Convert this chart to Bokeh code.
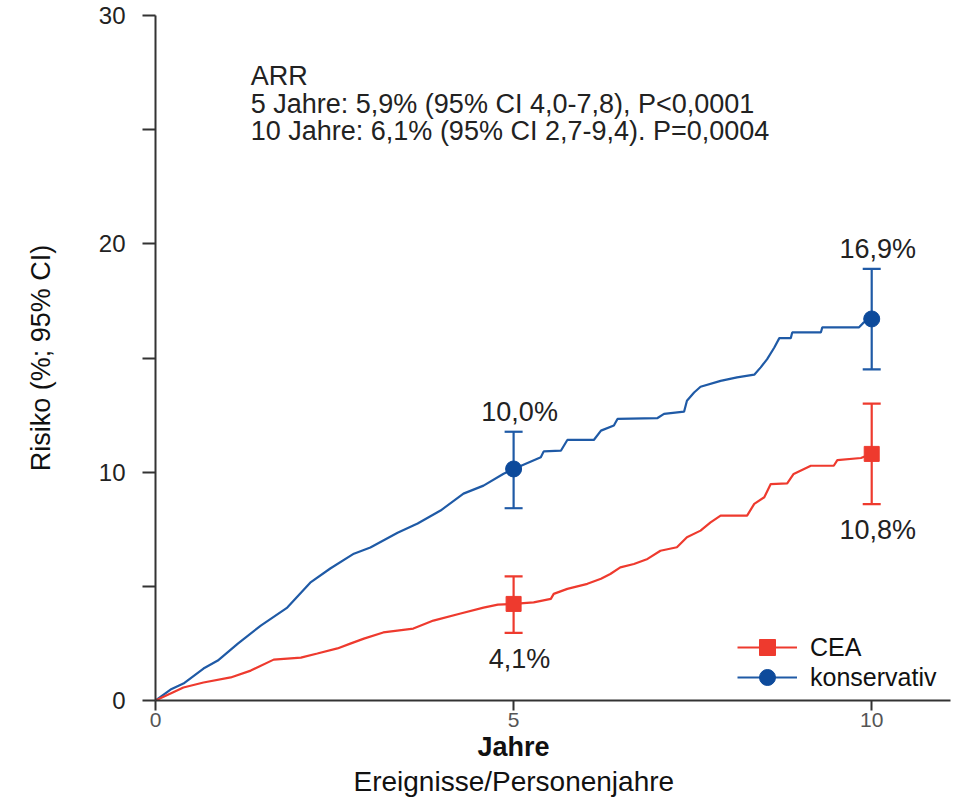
from bokeh.plotting import figure
from bokeh.models import (FixedTicker, Whisker, TeeHead, ColumnDataSource, Legend,
                          LegendItem, Label, Range1d, Title)
from bokeh.core.properties import value
from bokeh.embed import file_html
from bokeh.resources import INLINE

# ---------------- data ----------------
kons_years = [0, 0.21, 0.39, 0.67, 0.87, 1.15, 1.47, 1.84, 2.16, 2.44, 2.77, 3.00, 3.38, 3.66,
              3.98, 4.30, 4.58, 4.86, 5.00, 5.38, 5.42, 5.66, 5.75, 6.12, 6.22, 6.40, 6.45, 7.01,
              7.10, 7.38, 7.42, 7.52, 7.61, 7.89, 8.12, 8.36, 8.45, 8.54, 8.64, 8.71, 8.87, 8.89,
              9.29, 9.31, 9.82, 9.89, 9.99]
kons_risk = [0, 0.48, 0.74, 1.40, 1.75, 2.49, 3.28, 4.07, 5.16, 5.78, 6.43, 6.70, 7.35, 7.75,
             8.32, 9.06, 9.41, 9.93, 10.14, 10.65, 10.91, 10.94, 11.41, 11.41, 11.82, 12.04, 12.33,
             12.37, 12.55, 12.65, 13.13, 13.49, 13.74, 14.00, 14.15, 14.27, 14.59, 14.95, 15.46,
             15.87, 15.87, 16.12, 16.12, 16.34, 16.34, 16.56, 16.71]

cea_years = [0, 0.21, 0.39, 0.67, 1.05, 1.33, 1.65, 2.03, 2.26, 2.54, 2.72, 2.91, 3.18, 3.60,
             3.88, 4.26, 4.58, 4.78, 5.00, 5.28, 5.52, 5.56, 5.75, 6.03, 6.22, 6.35, 6.49, 6.68,
             6.87, 7.05, 7.28, 7.42, 7.61, 7.75, 7.89, 8.26, 8.36, 8.50, 8.59, 8.82, 8.91, 9.15,
             9.47, 9.52, 9.85, 9.99]
cea_risk = [0, 0.31, 0.57, 0.79, 1.01, 1.31, 1.79, 1.88, 2.06, 2.28, 2.49, 2.71, 2.98, 3.15,
            3.50, 3.81, 4.07, 4.20, 4.23, 4.30, 4.45, 4.67, 4.89, 5.11, 5.33, 5.54, 5.83, 5.98,
            6.20, 6.56, 6.71, 7.15, 7.44, 7.80, 8.10, 8.10, 8.61, 8.90, 9.48, 9.51, 9.92, 10.28,
            10.28, 10.53, 10.62, 10.80]

est_years = [5, 10]
kons_est = [10.14, 16.71]
kons_lo = [8.42, 14.5]
kons_hi = [11.77, 18.9]
kons_labels = ["10,0%", "16,9%"]
cea_est = [4.23, 10.80]
cea_lo = [2.96, 8.6]
cea_hi = [5.44, 13.0]
cea_labels = ["4,1%", "10,8%"]

y_ticks = [0, 5, 10, 15, 20, 25, 30]
y_tick_hidden = [5, 15, 25]
x_ticks = [0, 5, 10]

arr_text = ("ARR\n5 Jahre: 5,9% (95% CI 4,0-7,8), P<0,0001\n"
            "10 Jahre: 6,1% (95% CI 2,7-9,4). P=0,0004")
series_names = ["CEA", "konservativ"]
x_title = "Jahre"
x_subtitle = "Ereignisse/Personenjahre"
y_title = "Risiko (%; 95% CI)"

# ---------------- style ----------------
FONT = "Liberation Sans"
BLUE = "#1f5aa6"
BLUE_M = "#0d4a9b"
RED = "#ee3a2e"
AX = "#333333"

p = figure(width=958, height=800, output_backend="svg", toolbar_location=None,
           x_range=Range1d(0, 11.1), y_range=Range1d(0, 30),
           min_border_left=155, min_border_right=8, min_border_top=15, min_border_bottom=100)
p.xgrid.visible = False
p.ygrid.visible = False
p.outline_line_color = None
p.background_fill_color = "white"

for ax in (p.xaxis[0], p.yaxis[0]):
    ax.axis_line_color = AX
    ax.axis_line_width = 2
    ax.major_tick_line_color = AX
    ax.major_tick_line_width = 2
    ax.major_tick_in = 0
    ax.minor_tick_line_color = None
    ax.major_label_text_font = FONT

p.yaxis.ticker = FixedTicker(ticks=y_ticks)
p.yaxis.major_label_overrides = {t: "" for t in y_tick_hidden}
p.yaxis.major_tick_out = 13
p.yaxis.major_label_standoff = 17
p.yaxis.major_label_text_font_size = "24px"
p.yaxis.major_label_text_color = "#222222"
p.yaxis.axis_label = y_title
p.yaxis.axis_label_text_font = FONT
p.yaxis.axis_label_text_font_size = "27px"
p.yaxis.axis_label_text_font_style = "normal"
p.yaxis.axis_label_text_color = "#111111"
p.yaxis.axis_label_standoff = 40

p.xaxis.ticker = FixedTicker(ticks=x_ticks)
p.xaxis.major_tick_out = 10
p.xaxis.major_label_standoff = 2
p.xaxis.major_label_text_font_size = "21px"
p.xaxis.major_label_text_color = "#555555"

# curves
kons_line = p.line(kons_years, kons_risk, line_color=BLUE, line_width=2.2)
cea_line = p.line(cea_years, cea_risk, line_color=RED, line_width=2.2)

# error bars
ksrc = ColumnDataSource(dict(x=est_years, lo=kons_lo, hi=kons_hi))
csrc = ColumnDataSource(dict(x=est_years, lo=cea_lo, hi=cea_hi))
for src, col in ((ksrc, BLUE), (csrc, RED)):
    w = Whisker(source=src, base="x", lower="lo", upper="hi", dimension="height",
                line_color=col, line_width=2.2,
                upper_head=TeeHead(size=18, line_color=col, line_width=2.2),
                lower_head=TeeHead(size=18, line_color=col, line_width=2.2))
    p.add_layout(w)

kons_pts = p.scatter(est_years, kons_est, marker="circle", size=16,
                     fill_color=BLUE_M, line_color=BLUE_M)
cea_pts = p.scatter(est_years, cea_est, marker="square", size=15,
                    fill_color=RED, line_color=RED)

# value labels
p.text(x=est_years, y=kons_hi, text=kons_labels, x_offset=6, y_offset=-5,
       text_align="center", text_baseline="bottom", text_font=value(FONT),
       text_font_size="27px", text_color="#222222")
p.text(x=est_years, y=cea_lo, text=cea_labels, x_offset=6, y_offset=11,
       text_align="center", text_baseline="top", text_font=value(FONT),
       text_font_size="27px", text_color="#222222")

# ARR block
p.add_layout(Label(x=1.33, y=28.0, text=arr_text, text_font=FONT, text_font_size="27px",
                   text_baseline="top", text_align="left", text_color="#222222",
                   text_line_height=0.92))

# x-axis titles (centred under the 5-year tick)
p.add_layout(Title(text=x_title, align="left", offset=322, standoff=0,
                   text_font=FONT, text_font_size="27px", text_font_style="bold",
                   text_color="#111111"), "below")
p.add_layout(Title(text=x_subtitle, align="left", offset=198, standoff=4,
                   text_font=FONT, text_font_size="28px", text_font_style="normal",
                   text_color="#111111"), "below")

# legend: one single-row legend per series so rows sit close together
def make_legend(name, rends, bottom):
    return Legend(items=[LegendItem(label=name, renderers=rends)],
                  location=(582, bottom), orientation="vertical",
                  glyph_width=60, glyph_height=40, label_standoff=13, spacing=0,
                  padding=0, margin=0, border_line_color=None,
                  background_fill_alpha=0, label_text_font=FONT,
                  label_text_font_size="25px", label_text_color="#111111",
                  label_text_baseline="middle")

p.add_layout(make_legend(series_names[0], [cea_line, cea_pts], 33))
p.add_layout(make_legend(series_names[1], [kons_line, kons_pts], 3))

open("out.html", "w").write(file_html(p, INLINE))
